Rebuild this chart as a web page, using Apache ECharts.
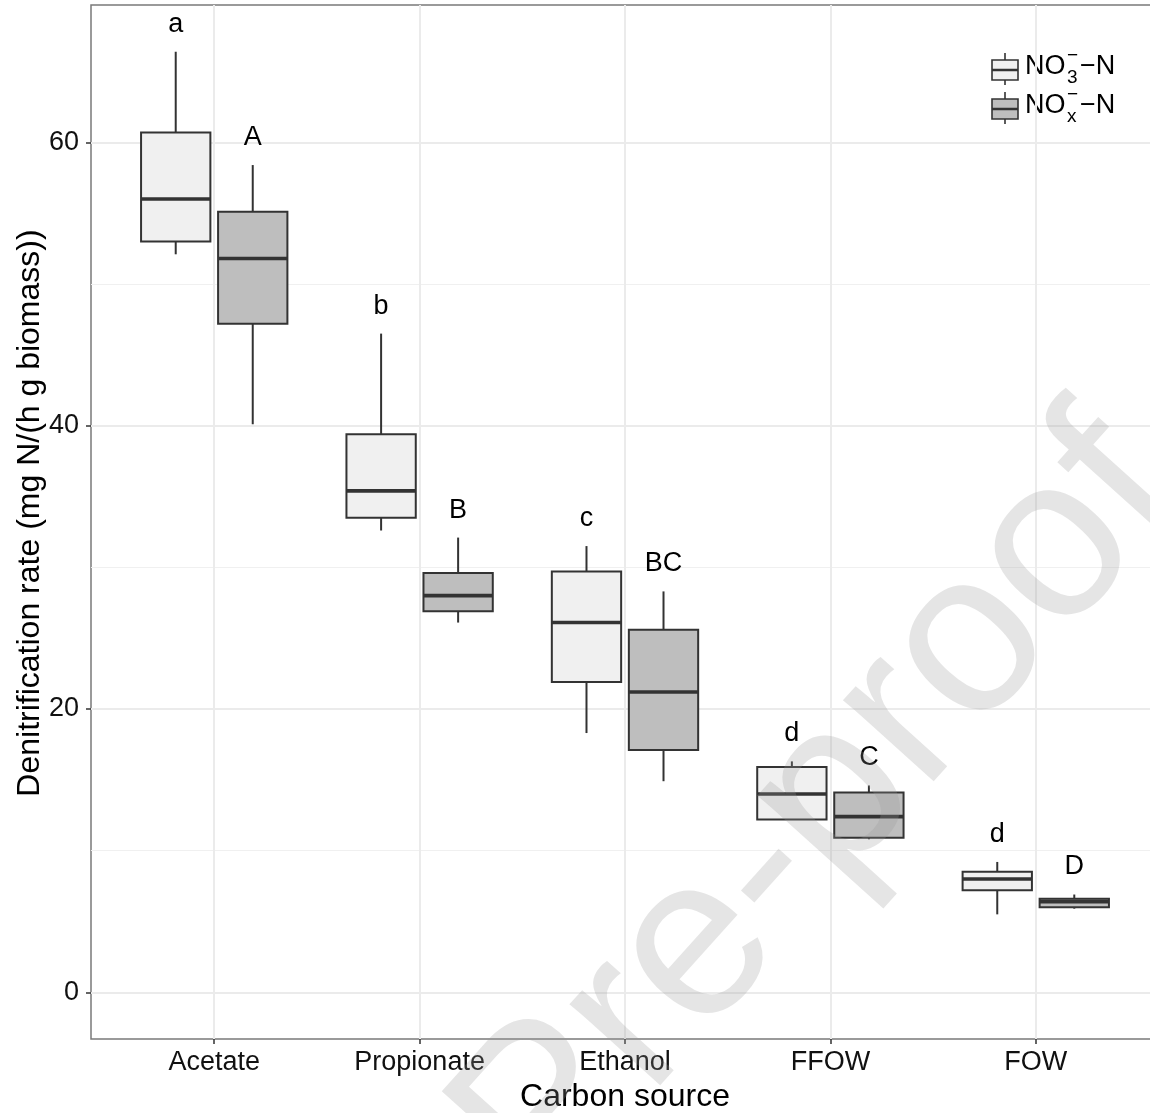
<!DOCTYPE html>
<html>
<head>
<meta charset="utf-8">
<script src="https://cdn.jsdelivr.net/npm/echarts@6/dist/echarts.min.js"></script>
<style>
  html, body { margin: 0; padding: 0; background: #fff; }
  #chart { width: 1150px; height: 1113px; }
</style>
</head>
<body>
<div id="chart"></div>
<script>
// carbon sources on the x axis
const categories = ['Acetate', 'Propionate', 'Ethanol', 'FFOW', 'FOW'];
// box stats per source: [min, q1, median, q3, max]
const no3Stats = [
  [52.1, 53.0, 56.0, 60.7, 66.4],
  [32.6, 33.5, 35.4, 39.4, 46.5],
  [18.3, 21.9, 26.1, 29.7, 31.5],
  [12.2, 12.2, 14.0, 15.9, 16.3],
  [5.5, 7.2, 8.0, 8.5, 9.2]
];
const noxStats = [
  [40.1, 47.2, 51.8, 55.1, 58.4],
  [26.1, 26.9, 28.0, 29.6, 32.1],
  [14.9, 17.1, 21.2, 25.6, 28.3],
  [10.8, 10.9, 12.4, 14.1, 14.6],
  [5.9, 6.0, 6.4, 6.6, 6.9]
];
// significance letters
const no3Letters = ['a', 'b', 'c', 'd', 'd'];
const noxLetters = ['A', 'B', 'BC', 'C', 'D'];
const yMajor = [0, 20, 40, 60];
const yMinor = [10, 30, 50];

const DODGE = 0.1875;
const HALF = 0.16875;
const FONT = 'Liberation Sans, Arial, sans-serif';

function toData(stats, letters) {
  return stats.map((s, i) => [i + 1].concat(s, [letters[i]]));
}

function renderBox(fill, dx) {
  return function (params, api) {
    const x = api.value(0) + dx;
    const lo = api.coord([x - HALF, api.value(4)]);
    const hi = api.coord([x + HALF, api.value(2)]);
    const top = api.coord([x, api.value(5)]);
    const bot = api.coord([x, api.value(1)]);
    const med = api.coord([x, api.value(3)]);
    const line = { stroke: '#333333', lineWidth: 2 };
    return {
      type: 'group',
      children: [
        { type: 'line', shape: { x1: top[0], y1: top[1], x2: top[0], y2: lo[1] }, style: line },
        { type: 'line', shape: { x1: bot[0], y1: hi[1], x2: bot[0], y2: bot[1] }, style: line },
        {
          type: 'rect',
          shape: { x: lo[0], y: lo[1], width: hi[0] - lo[0], height: hi[1] - lo[1] },
          style: { fill, stroke: '#333333', lineWidth: 2 }
        },
        { type: 'line', shape: { x1: lo[0], y1: med[1], x2: hi[0], y2: med[1] }, style: { stroke: '#333333', lineWidth: 3.6 } },
        {
          type: 'text',
          style: {
            text: api.value(6), x: top[0], y: top[1] - 14,
            align: 'center', verticalAlign: 'bottom',
            fontSize: 27, fontFamily: FONT, fill: '#000'
          }
        }
      ]
    };
  };
}

const chart = echarts.init(document.getElementById('chart'));

function legendRow(y, fill, script) {
  const ln = { stroke: '#333333', lineWidth: 1.6 };
  const txt = { fontFamily: FONT, fill: '#000', verticalAlign: 'middle' };
  return [
    { type: 'line', shape: { x1: 1005, y1: y - 17, x2: 1005, y2: y + 15 }, style: ln },
    { type: 'rect', shape: { x: 992, y: y - 10, width: 26, height: 20 }, style: { fill, stroke: '#333333', lineWidth: 1.6 } },
    { type: 'line', shape: { x1: 992, y1: y, x2: 1018, y2: y }, style: { stroke: '#333333', lineWidth: 2.5 } },
    { type: 'text', x: 1025, y: y - 3, style: Object.assign({ text: 'NO', fontSize: 27 }, txt) },
    { type: 'text', x: 1067, y: y - 14, style: Object.assign({ text: '\u2212', fontSize: 19 }, txt) },
    { type: 'text', x: 1067, y: y + 8, style: Object.assign({ text: script, fontSize: 19 }, txt) },
    { type: 'text', x: 1080, y: y - 3, style: Object.assign({ text: '\u2212N', fontSize: 27 }, txt) }
  ];
}

const option = {
  backgroundColor: '#fff',
  animation: false,
  grid: {
    left: 91, top: 5, width: 1068, height: 1034,
    outerBoundsMode: 'none', containLabel: false,
    show: true, borderColor: '#7a7a7a', borderWidth: 1.5, backgroundColor: 'transparent'
  },
  xAxis: {
    type: 'value', min: 0.4, max: 5.6,
    name: 'Carbon source', nameLocation: 'middle', nameGap: 41,
    nameTextStyle: { fontSize: 32, fontFamily: FONT, color: '#000' },
    axisLine: { show: false, onZero: false },
    axisTick: { show: true, length: 5, customValues: [1, 2, 3, 4, 5], lineStyle: { color: '#333', width: 1.5 } },
    axisLabel: {
      customValues: [1, 2, 3, 4, 5], margin: 10,
      fontSize: 27, fontFamily: FONT, color: '#111',
      formatter: (v) => categories[Math.round(v) - 1] || ''
    },
    splitLine: { show: true, lineStyle: { color: '#ebebeb', width: 2 } }
  },
  yAxis: [
    {
      type: 'value', min: -3.3, max: 69.7,
      name: 'Denitrification rate (mg N/(h g biomass))', nameLocation: 'middle', nameGap: 45,
      nameMoveOverlap: false,
      nameTextStyle: { fontSize: 32, fontFamily: FONT, color: '#000', padding: [0, 0, 0, 18] },
      axisLine: { show: false, onZero: false },
      axisTick: { show: true, length: 5, customValues: yMajor, lineStyle: { color: '#333', width: 1.5 } },
      axisLabel: { customValues: yMajor, margin: 12, fontSize: 27, fontFamily: FONT, color: '#111' },
      splitLine: { show: true, lineStyle: { color: '#ebebeb', width: 2 } }
    },
    {
      type: 'value', min: -3.3, max: 69.7, position: 'left',
      axisLine: { show: false, onZero: false },
      axisTick: { show: false, customValues: yMinor },
      axisLabel: { show: false, customValues: yMinor },
      splitLine: { show: true, lineStyle: { color: '#f0f0f0', width: 1 } }
    }
  ],
  series: [
    {
      name: 'NO3-N', type: 'custom', renderItem: renderBox('#f0f0f0', -DODGE),
      encode: { x: 0, y: [1, 2, 3, 4, 5] }, data: toData(no3Stats, no3Letters), z: 3
    },
    {
      name: 'NOx-N', type: 'custom', renderItem: renderBox('#bebebe', DODGE),
      encode: { x: 0, y: [1, 2, 3, 4, 5] }, data: toData(noxStats, noxLetters), z: 3
    }
  ],
  graphic: [
    { type: 'group', children: legendRow(70, '#f0f0f0', '3').concat(legendRow(109, '#bebebe', 'x')) },
    {
      type: 'text', x: 1141, y: 456, rotation: 0.838, z: 100, silent: true,
      style: {
        text: 'Journal Pre-proof', fontSize: 230, fontFamily: FONT,
        fill: 'rgba(150,150,150,0.25)', align: 'right', verticalAlign: 'middle'
      }
    }
  ]
};

chart.setOption(option);
</script>
</body>
</html>
